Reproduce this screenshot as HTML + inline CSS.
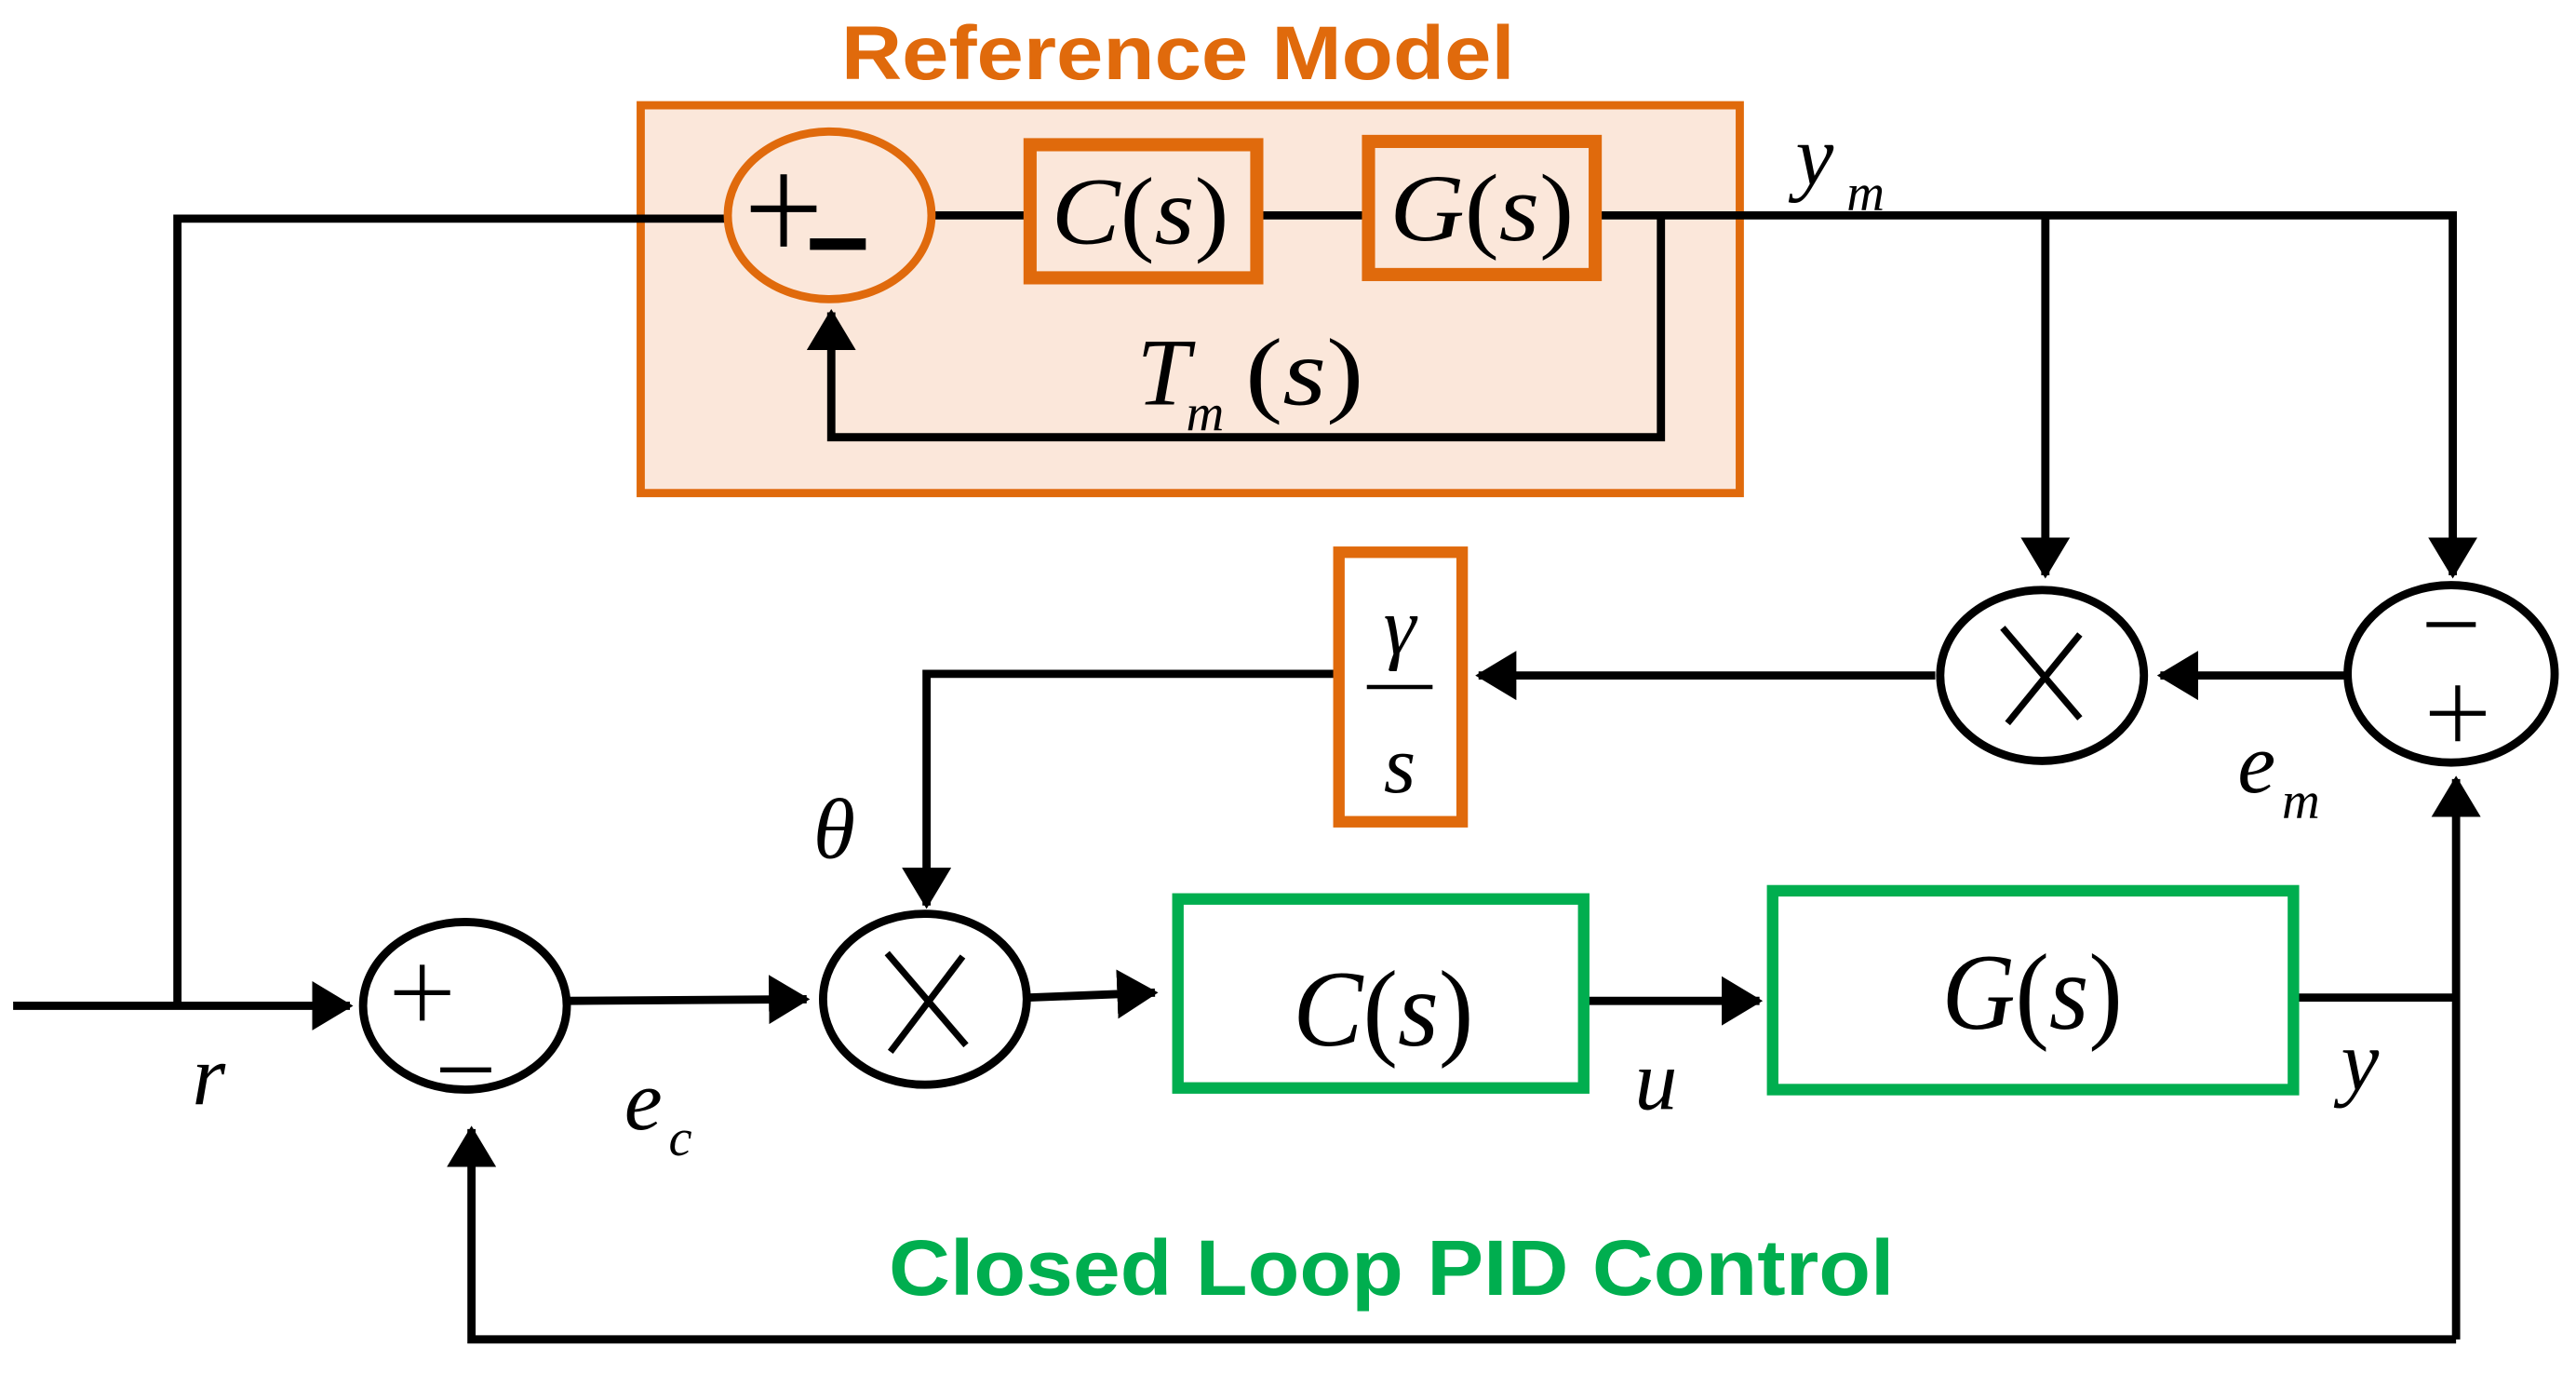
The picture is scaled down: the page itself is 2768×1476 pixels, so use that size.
<!DOCTYPE html>
<html><head><meta charset="utf-8"><style>
html,body{margin:0;padding:0;background:#fff;}
svg{display:block;}
.m{font-family:"Liberation Serif",serif;font-style:italic;fill:#000;}
.p{font-family:"Liberation Serif",serif;fill:#000;}
</style></head><body>
<svg width="2768" height="1476" viewBox="0 0 1568 836" xmlns="http://www.w3.org/2000/svg">
<defs>
<marker id="a" markerWidth="5" markerHeight="6" refX="4.6" refY="3" orient="auto" markerUnits="strokeWidth">
<path d="M0,0 L5,3 L0,6 Z" fill="#000"/>
</marker>
</defs>
<text x="512" y="48" font-family="Liberation Sans,sans-serif" font-weight="bold" font-size="46" fill="#E06A0C" textLength="410" lengthAdjust="spacingAndGlyphs">Reference Model</text>
<rect x="390" y="64" width="669" height="236" fill="#FBE7DA" stroke="#E06A0C" stroke-width="5"/>
<g stroke="#000" stroke-width="5" fill="none">
<polyline points="108,612 108,133 443,133"/>
<line x1="567" y1="131" x2="626" y2="131"/>
<line x1="768" y1="131" x2="832" y2="131"/>
<polyline points="974,131 1493,131 1493,350" marker-end="url(#a)"/>
<line x1="1245" y1="131" x2="1245" y2="350" marker-end="url(#a)"/>
<polyline points="1011,131 1011,266 506,266 506,190" marker-end="url(#a)"/>
</g>
<ellipse cx="505" cy="131" rx="62" ry="51" fill="#FBE7DA" stroke="#E06A0C" stroke-width="5"/>
<line x1="457" y1="127" x2="497" y2="127" stroke="#000" stroke-width="4"/>
<line x1="477" y1="106" x2="477" y2="150" stroke="#000" stroke-width="4"/>
<rect x="493" y="145" width="34" height="7" fill="#000"/>
<rect x="627" y="88" width="138" height="81" fill="#FBE7DA" stroke="#E06A0C" stroke-width="8"/>
<text x="640" y="148" class="m" font-size="58" textLength="108" lengthAdjust="spacingAndGlyphs">C<tspan font-style="normal">(</tspan>s<tspan font-style="normal">)</tspan></text>
<rect x="833" y="86" width="138" height="81" fill="#FBE7DA" stroke="#E06A0C" stroke-width="8"/>
<text x="846" y="146" class="m" font-size="58" textLength="112" lengthAdjust="spacingAndGlyphs">G<tspan font-style="normal">(</tspan>s<tspan font-style="normal">)</tspan></text>
<text x="692" y="246" class="m" font-size="58">T</text>
<text x="722" y="262" class="m" font-size="32">m</text>
<text x="758" y="246" class="m" font-size="58" textLength="72" lengthAdjust="spacingAndGlyphs"><tspan font-style="normal">(</tspan>s<tspan font-style="normal">)</tspan></text>
<text x="1093" y="112" class="m" font-size="52">y</text>
<text x="1124" y="128" class="m" font-size="32">m</text>

<g stroke="#000" stroke-width="5" fill="none">
<line x1="1428" y1="411" x2="1315" y2="411" marker-end="url(#a)"/>
<line x1="1178" y1="411" x2="900" y2="411" marker-end="url(#a)"/>
<polyline points="813,410 564,410 564,551" marker-end="url(#a)"/>
<line x1="8" y1="612" x2="213" y2="612" marker-end="url(#a)"/>
<line x1="345" y1="609" x2="491" y2="608" marker-end="url(#a)"/>
<line x1="626" y1="607" x2="703" y2="604" marker-end="url(#a)"/>
<line x1="965" y1="609" x2="1071" y2="609" marker-end="url(#a)"/>
<polyline points="1397,607 1495,607"/>
<line x1="1495" y1="815" x2="1495" y2="474" marker-end="url(#a)"/>
<polyline points="1495,815 287,815 287,687" marker-end="url(#a)"/>
</g>
<ellipse cx="1243" cy="411" rx="62" ry="52" fill="#fff" stroke="#000" stroke-width="5"/>
<line x1="1219" y1="382" x2="1266" y2="437" stroke="#000" stroke-width="4"/>
<line x1="1266" y1="386" x2="1222" y2="440" stroke="#000" stroke-width="4"/>
<ellipse cx="1492" cy="410" rx="63" ry="54" fill="#fff" stroke="#000" stroke-width="5"/>
<line x1="1477" y1="380" x2="1507" y2="380" stroke="#000" stroke-width="3"/>
<line x1="1479" y1="434" x2="1513" y2="434" stroke="#000" stroke-width="3"/>
<line x1="1496" y1="417" x2="1496" y2="451" stroke="#000" stroke-width="3"/>
<text x="1362" y="482" class="m" font-size="52">e</text>
<text x="1389" y="498" class="m" font-size="32">m</text>
<rect x="815" y="336" width="75" height="164" fill="#fff" stroke="#E06A0C" stroke-width="7"/>
<text x="852" y="398" text-anchor="middle" class="m" font-size="50">γ</text>
<line x1="832" y1="418" x2="872" y2="418" stroke="#000" stroke-width="2.5"/>
<text x="852" y="482" text-anchor="middle" class="m" font-size="50">s</text>
<text x="495" y="522" class="m" font-size="52">θ</text>
<ellipse cx="563" cy="608" rx="62" ry="52" fill="#fff" stroke="#000" stroke-width="5"/>
<line x1="540" y1="580" x2="588" y2="636" stroke="#000" stroke-width="4"/>
<line x1="586" y1="582" x2="542" y2="640" stroke="#000" stroke-width="4"/>
<ellipse cx="283" cy="612" rx="62" ry="51" fill="#fff" stroke="#000" stroke-width="5"/>
<line x1="240" y1="604" x2="274" y2="604" stroke="#000" stroke-width="3"/>
<line x1="257" y1="587" x2="257" y2="621" stroke="#000" stroke-width="3"/>
<line x1="268" y1="651" x2="299" y2="651" stroke="#000" stroke-width="3"/>
<text x="117" y="672" class="m" font-size="52">r</text>
<text x="380" y="687" class="m" font-size="52">e</text>
<text x="407" y="703" class="m" font-size="32">c</text>
<text x="995" y="675" class="m" font-size="52">u</text>
<text x="1425" y="663" class="m" font-size="52">y</text>
<rect x="717" y="547" width="247" height="115" fill="#fff" stroke="#00AE4F" stroke-width="7"/>
<text x="787" y="636" class="m" font-size="66" textLength="110" lengthAdjust="spacingAndGlyphs">C<tspan font-style="normal">(</tspan>s<tspan font-style="normal">)</tspan></text>
<rect x="1079" y="542" width="317" height="121" fill="#fff" stroke="#00AE4F" stroke-width="7"/>
<text x="1182" y="626" class="m" font-size="66" textLength="110" lengthAdjust="spacingAndGlyphs">G<tspan font-style="normal">(</tspan>s<tspan font-style="normal">)</tspan></text>
<text x="541" y="788" font-family="Liberation Sans,sans-serif" font-weight="bold" font-size="48" fill="#00AE4F" textLength="612" lengthAdjust="spacingAndGlyphs">Closed Loop PID Control</text>
</svg>
</body></html>
